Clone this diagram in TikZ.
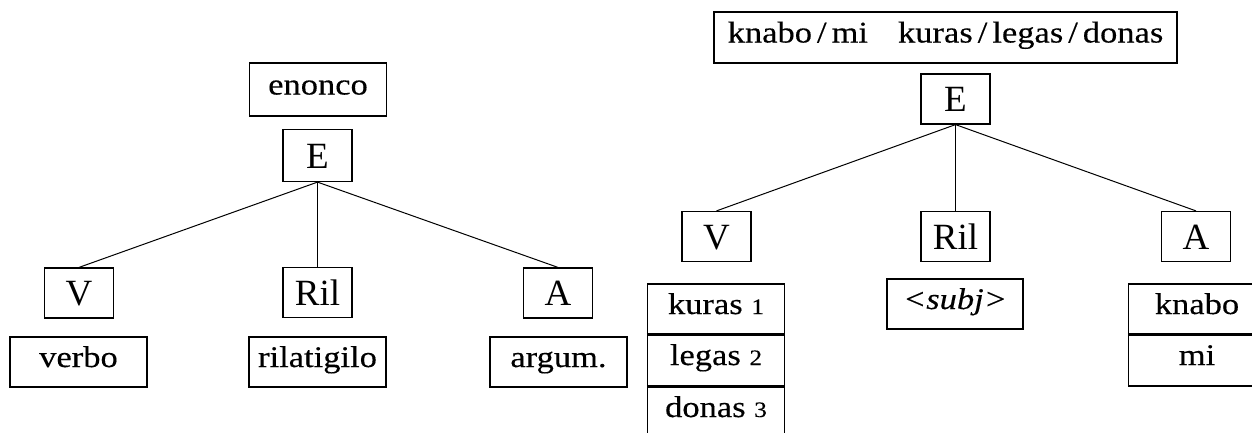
\documentclass[tikz,border=0pt]{standalone}
\usepackage{fontspec}
\setmainfont{Liberation Serif}[FakeStretch=1.15,FakeBold=0.3]
\newfontfamily\catfont{Liberation Serif}
\newcommand\subnum[1]{{\fontsize{22}{22}\selectfont #1}}
\begin{document}
\begin{tikzpicture}[x=1pt,y=-1pt,
  box/.style={draw,line width=1.2pt,inner sep=0pt,minimum height=50pt},
  lab/.style={box,minimum width=137pt,text height=21pt,text depth=11pt,font=\fontsize{30}{36}\selectfont},
  cat/.style={box,minimum width=69pt,text height=25pt,text depth=0pt,font=\catfont\fontsize{37}{40}\selectfont},
  edge/.style={line width=1pt},
  divider/.style={line width=2.4pt}]
\useasboundingbox (0,0) rectangle (1252,432);
% left tree
\node[lab,minimum height=53pt] (enonco) at (318,89.5) {enonco};
\node[cat,minimum height=52pt] (E1) at (317.5,155.5) {E};
\node[cat] (V1) at (79,293) {V};
\node[cat] (R1) at (317.5,292.5) {Ril};
\node[cat] (A1) at (558,293) {A};
\node[lab] (verbo) at (78.5,362) {verbo};
\node[lab] (rilat) at (317.5,362) {rilatigilo};
\node[lab] (argum) at (558.5,362) {argum.};
\draw[edge] (E1.south) -- (V1.north);
\draw[edge] (E1.south) -- (R1.north);
\draw[edge] (E1.south) -- (A1.north);
% right tree
\node[lab,minimum width=463pt,minimum height=51pt] (top) at (945.5,37.5) {knabo\,/\,mi\hspace{30pt}kuras\,/\,legas\,/\,donas};
\node[cat] (E2) at (955.5,99) {E};
\node[cat] (V2) at (716.5,236.5) {V};
\node[cat] (R2) at (955.5,236.5) {Ril};
\node[cat] (A2) at (1196,236.5) {A};
\draw[edge] (E2.south) -- (V2.north);
\draw[edge] (E2.south) -- (R2.north);
\draw[edge] (E2.south) -- (A2.north);
\node[lab,minimum width=136pt] (subj) at (955,304) {\itshape <subj>};
\node[lab] (k1) at (716,309) {kuras \subnum{1}};
\node[lab,minimum height=52pt] (k2) at (716,360) {legas \subnum{2}};
\node[lab,minimum height=52pt] (k3) at (716,412) {donas \subnum{3}};
\node[lab] (a1) at (1197,309) {knabo};
\node[lab,minimum height=52pt] (a2) at (1197,360) {mi};
\draw[divider] (k1.south west) -- (k1.south east);
\draw[divider] (k2.south west) -- (k2.south east);
\draw[divider] (a1.south west) -- (a1.south east);
\end{tikzpicture}
\end{document}
